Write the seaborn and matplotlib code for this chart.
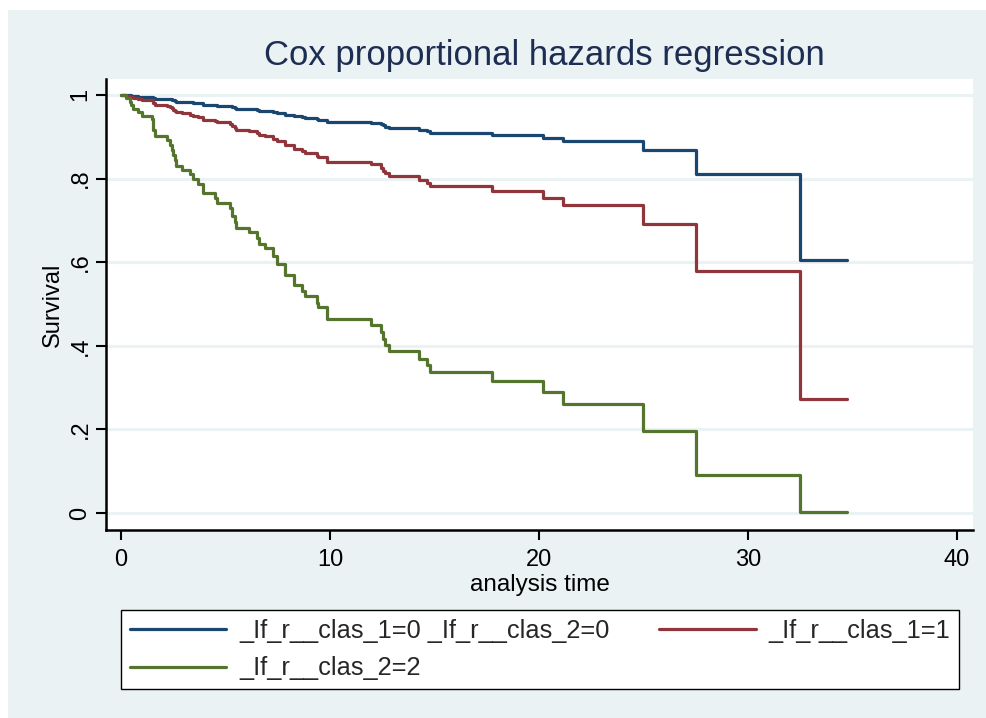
import matplotlib
matplotlib.use("Agg")
import matplotlib.pyplot as plt
import seaborn as sns
import pandas as pd
from matplotlib.patches import Rectangle
from matplotlib.lines import Line2D

# ---------------- data ----------------
times = [0, 0.25, 0.43, 0.48, 0.55, 0.8, 1.0, 1.47, 1.52, 1.63, 2.2, 2.35, 2.42, 2.5,
         2.58, 2.65, 2.9, 3.3, 3.45, 3.7, 3.9, 4.5, 4.58, 5.2, 5.3, 5.45, 5.5, 6.1,
         6.49, 6.6, 6.9, 7.29, 7.45, 7.85, 8.3, 8.65, 8.8, 9.36, 9.42, 9.84, 11.96,
         12.44, 12.55, 12.63, 12.84, 14.27, 14.63, 14.79, 17.77, 20.2, 21.16, 25.0,
         27.5, 32.5, 34.72]

surv_ref = [1.0, .999, .999, .998, .997, .996, .996, .995, .992, .991, .990, .989, .988,
            .987, .985, .984, .983, .982, .981, .980, .977, .976, .974, .973, .971, .969,
            .967, .966, .964, .962, .961, .959, .956, .952, .949, .946, .945, .942, .940,
            .935, .933, .930, .927, .924, .921, .917, .913, .910, .905, .898, .889, .867,
            .811, .605, .605]

surv_cl1 = [1.0, .998, .996, .995, .992, .991, .988, .987, .980, .977, .974, .971, .968,
            .965, .962, .958, .956, .953, .950, .947, .941, .937, .934, .931, .925, .921,
            .917, .913, .909, .905, .901, .895, .889, .880, .871, .866, .861, .855, .851,
            .840, .834, .826, .819, .812, .806, .796, .789, .781, .769, .754, .736, .690,
            .578, .272, .272]

surv_cl2 = [1.0, .993, .984, .976, .967, .959, .950, .942, .916, .902, .892, .880, .868,
            .856, .844, .830, .820, .810, .799, .788, .766, .753, .741, .729, .711, .697,
            .682, .672, .657, .644, .633, .615, .596, .570, .545, .531, .519, .502, .492,
            .464, .450, .432, .417, .401, .388, .368, .353, .337, .316, .289, .260, .196,
            .090, .002, .002]

labels = ["_If_r__clas_1=0 _If_r__clas_2=0", "_If_r__clas_1=1", "_If_r__clas_2=2"]
colors = ["#1A476F", "#90353B", "#55752F"]

y_ticks = [0, 0.2, 0.4, 0.6, 0.8, 1.0]
y_ticklabels = ["0", ".2", ".4", ".6", ".8", "1"]
x_ticks = [0, 10, 20, 30, 40]

df = pd.concat([
    pd.DataFrame({"time": times, "surv": s, "group": lab})
    for s, lab in zip([surv_ref, surv_cl1, surv_cl2], labels)
], ignore_index=True)

# ---------------- style ----------------
sns.set_theme(style="white")
plt.rcParams["font.family"] = ["Liberation Sans", "DejaVu Sans"]

W, H = 986, 718
fig = plt.figure(figsize=(W / 100, H / 100), dpi=100)
fig.patch.set_facecolor("white")
fig.patches.append(Rectangle((8 / W, 0), 1 - 8 / W, 1 - 10 / H, transform=fig.transFigure,
                             facecolor="#EAF2F3", edgecolor="none", zorder=-10))

ax = fig.add_axes([106 / W, 1 - 530 / H, (973 - 106) / W, (530 - 79) / H])
ax.set_facecolor("white")

sns.lineplot(data=df, x="time", y="surv", hue="group", hue_order=labels,
             palette=colors, drawstyle="steps-post", estimator=None, sort=False,
             linewidth=2.3, ax=ax, legend=False)

ax.set_xlim(-0.72, 40.77)
ax.set_ylim(-0.0407, 1.038)
ax.set_xticks(x_ticks)
ax.set_xticklabels([str(v) for v in x_ticks])
ax.set_yticks(y_ticks)
ax.set_yticklabels(y_ticklabels, rotation=90, va="center")

ax.yaxis.grid(True, color="#EAF2F3", linewidth=2.2)
ax.xaxis.grid(False)
ax.set_axisbelow(True)

for s in ["top", "right"]:
    ax.spines[s].set_visible(False)
for s in ["left", "bottom"]:
    ax.spines[s].set_color("black")
    ax.spines[s].set_linewidth(1.8)

ax.tick_params(axis="both", which="major", bottom=True, left=True, direction="out",
               length=7.5, width=1.5, colors="black", labelsize=17)
ax.tick_params(axis="x", pad=6)
ax.tick_params(axis="y", pad=3)

ax.set_xlabel("analysis time", fontsize=17.5, labelpad=2, color="black")
ax.set_ylabel("Survival", fontsize=17, labelpad=4, color="black")

fig.text(544 / W, 1 - 55 / H, "Cox proportional hazards regression", ha="center",
         va="center", fontsize=25, color="#1E2D52")

handles = [Line2D([], [], color=colors[0], lw=2.3),
           Line2D([], [], color=colors[2], lw=2.3),
           Line2D([], [], color=colors[1], lw=2.3)]
leg_labels = [labels[0], labels[2], labels[1]]
leg = fig.legend(handles, leg_labels, loc="center",
                 bbox_to_anchor=(121 / W, 1 - 690 / H, (959 - 121) / W, (690 - 609) / H),
                 bbox_transform=fig.transFigure, mode="expand", ncol=2, fontsize=18.3,
                 handlelength=3.8, handletextpad=0.5, columnspacing=1.8, borderpad=0.35,
                 borderaxespad=0, labelspacing=0.55, frameon=True, fancybox=False,
                 edgecolor="black", facecolor="white", framealpha=1)
leg.get_frame().set_linewidth(1.0)

fig.savefig("out.png", dpi=100)
